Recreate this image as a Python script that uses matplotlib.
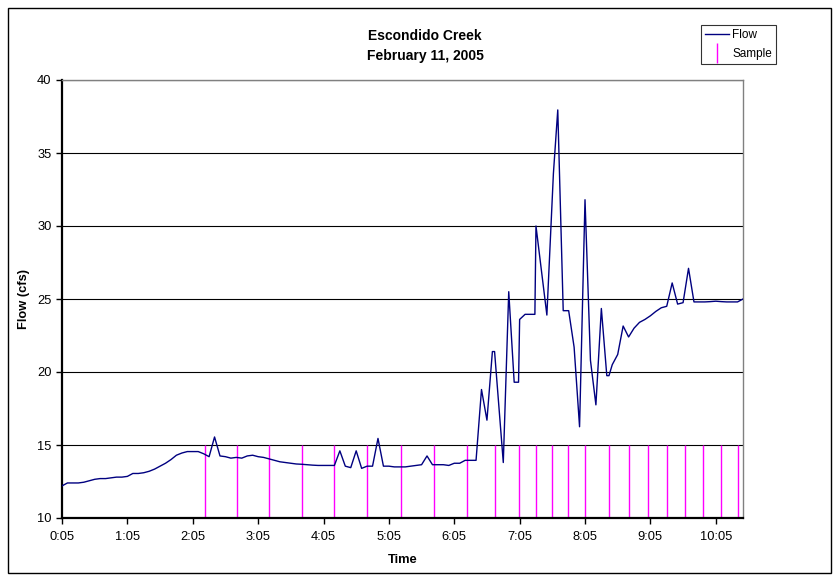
import matplotlib
matplotlib.use("Agg")
import matplotlib.pyplot as plt
from matplotlib.lines import Line2D
from matplotlib.patches import Rectangle

plt.rcParams['font.family'] = ['Liberation Sans', 'DejaVu Sans']

# Flow readings, minutes after midnight (5-min logging, irregular during storm)
flow_minutes = [
    5, 10, 15, 20, 25, 30, 35, 40, 45, 50, 55, 60, 65, 70, 75, 80, 85, 90, 95, 100,
    105, 110, 115, 120, 125, 130, 135, 140, 145, 150, 155, 160, 165, 170, 175, 180,
    185, 190, 195, 200, 205, 210, 215, 220, 225, 230, 235, 240, 245, 250, 255, 260,
    265, 270, 275, 280, 285, 290, 295, 300, 305, 310, 315, 320, 325, 330, 335, 340,
    345, 350, 355, 360, 365, 370, 375, 380, 385,
    390, 395, 400, 402, 410, 415, 420, 424, 425, 430, 439, 440, 450, 456, 460, 465,
    470, 475, 480, 485, 490, 495, 500, 505, 507, 510, 515, 520, 525, 530, 535, 540,
    545, 550, 555, 560, 565, 570, 575, 580, 585, 590, 595, 600, 605, 610, 615, 620,
    625, 630,
]
flow_cfs = [
    12.2, 12.4, 12.4, 12.4, 12.45, 12.55, 12.65, 12.7, 12.7, 12.75, 12.8, 12.8, 12.85,
    13.05, 13.05, 13.1, 13.2, 13.35, 13.55, 13.75, 14.0, 14.3, 14.45, 14.55, 14.55,
    14.55, 14.4, 14.2, 15.55, 14.25, 14.2, 14.1, 14.15, 14.1, 14.25, 14.3, 14.2, 14.15,
    14.05, 13.95, 13.85, 13.8, 13.75, 13.7, 13.68, 13.65, 13.62, 13.6, 13.6, 13.6,
    13.6, 14.6, 13.55, 13.45, 14.6, 13.4, 13.55, 13.55, 15.45, 13.55, 13.55, 13.5,
    13.5, 13.5, 13.55, 13.6, 13.65, 14.25, 13.65, 13.65, 13.65, 13.6, 13.75, 13.75,
    13.95, 13.95, 13.95,
    18.8, 16.7, 21.4, 21.4, 13.8, 25.5, 19.3, 19.3, 23.6, 23.95, 23.95, 30.0, 23.9,
    33.6, 37.95, 24.2, 24.2, 21.7, 16.25, 31.8, 20.8, 17.75, 24.35, 19.75, 19.75,
    20.5, 21.2, 23.15, 22.4, 23.0, 23.4, 23.6, 23.85, 24.15, 24.4, 24.5, 26.1, 24.65,
    24.75, 27.1, 24.8, 24.8, 24.8, 24.82, 24.85, 24.82, 24.8, 24.8, 24.8, 25.0,
]

# Sample collection times (minutes after midnight)
sample_minutes = [136, 166, 195, 225, 255, 285, 316, 346, 377, 402, 424, 440, 455,
                  469, 485, 507, 525, 543, 560, 577, 593, 610, 625]
sample_low = 10
sample_high = 15

tick_minutes = [5, 65, 125, 185, 245, 305, 365, 425, 485, 545, 605]
tick_labels = ["0:05", "1:05", "2:05", "3:05", "4:05", "5:05", "6:05",
               "7:05", "8:05", "9:05", "10:05"]

fig = plt.figure(figsize=(8.4, 5.81), dpi=100)
ax = fig.add_axes([62 / 840, 1 - 518 / 581, (743 - 62) / 840, (518 - 80) / 581])

ax.vlines(sample_minutes, sample_low, sample_high, color='#FF00FF', lw=1.0, zorder=2)
ax.plot(flow_minutes, flow_cfs, color='#000080', lw=1.0, zorder=3)

ax.set_xlim(5, 630)
ax.set_ylim(10, 40)
ax.set_yticks(range(10, 41, 5))
ax.set_xticks(tick_minutes)
ax.set_xticklabels(tick_labels)
ax.tick_params(axis='both', direction='out', length=4, width=1, labelsize=9.3, colors='black')
ax.tick_params(axis='x', pad=5)
ax.yaxis.grid(True, color='black', lw=0.8)
ax.set_axisbelow(True)

for side in ['left', 'bottom']:
    ax.spines[side].set_linewidth(1.6)
    ax.spines[side].set_color('black')
for side in ['top', 'right']:
    ax.spines[side].set_linewidth(1.0)
    ax.spines[side].set_color('#808080')

ax.set_xlabel("Time", fontsize=9.3, fontweight='bold', labelpad=8)
ax.set_ylabel("Flow (cfs)", fontsize=9.3, fontweight='bold', labelpad=5)

fig.text(425 / 840, 1 - 46 / 581, "Escondido Creek\nFebruary 11, 2005", ha='center',
         va='center', fontsize=10, fontweight='bold', linespacing=1.5)

handles = [Line2D([0], [0], color='#000080', lw=1.0),
           Line2D([0], [0], color='#FF00FF', lw=0, marker='|', markersize=15, markeredgewidth=1.0)]
leg = fig.legend(handles, ["Flow", "Sample"], loc='upper left',
                 bbox_to_anchor=(701 / 840, 1 - 25 / 581), fontsize=8.5, frameon=True,
                 fancybox=False, edgecolor='black', handlelength=2.0, handletextpad=0.3,
                 borderpad=0.35, labelspacing=0.6, borderaxespad=0)
leg.get_frame().set_linewidth(0.8)

fig.patches.append(Rectangle((8 / 840, 8 / 581), (831 - 8) / 840, (573 - 8) / 581,
                             transform=fig.transFigure, fill=False, edgecolor='black', lw=1.0))

fig.savefig("out.png", dpi=100)
